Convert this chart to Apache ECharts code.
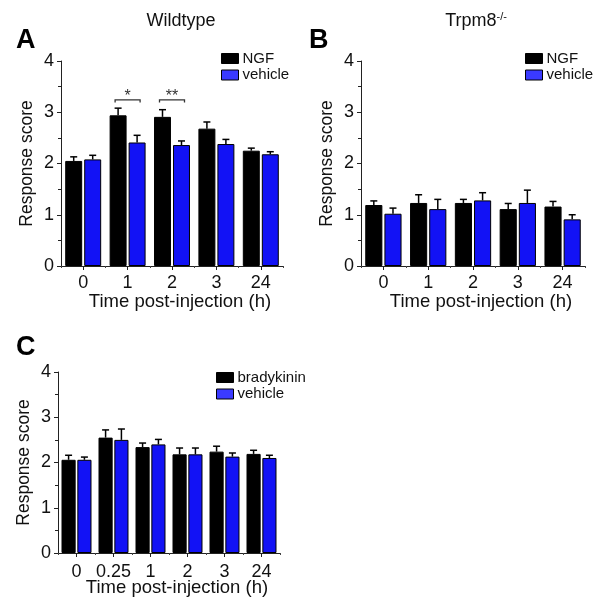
<!DOCTYPE html>
<html>
<head>
<meta charset="utf-8">
<script src="https://cdn.jsdelivr.net/npm/echarts@6/dist/echarts.min.js"></script>
<style>
html,body{margin:0;padding:0;background:#fff;}
#chart{width:597px;height:598px;}
</style>
</head>
<body>
<div id="chart"></div>
<script>
// ---- data ----
var catsAB = ['0', '1', '2', '3', '24'];
var catsC = ['0', '0.25', '1', '2', '3', '24'];
var yTicks = [0, 1, 2, 3, 4];

var ngfWT = [2.05, 2.94, 2.91, 2.68, 2.25];
var ngfWTSem = [0.08, 0.14, 0.14, 0.13, 0.05];
var vehWT = [2.08, 2.41, 2.36, 2.38, 2.18];
var vehWTSem = [0.08, 0.14, 0.08, 0.09, 0.05];

var ngfKO = [1.19, 1.23, 1.23, 1.11, 1.16];
var ngfKOSem = [0.08, 0.16, 0.07, 0.11, 0.10];
var vehKO = [1.02, 1.11, 1.28, 1.23, 0.91];
var vehKOSem = [0.11, 0.19, 0.15, 0.25, 0.09];

var brady = [2.06, 2.55, 2.34, 2.18, 2.24, 2.19];
var bradySem = [0.10, 0.17, 0.09, 0.14, 0.12, 0.08];
var vehC = [2.06, 2.50, 2.40, 2.18, 2.13, 2.10];
var vehCSem = [0.06, 0.24, 0.11, 0.14, 0.08, 0.06];

// significance brackets (category index, bracket level, label)
var sigCats = [1, 2];
var sigLevel = [3.24, 3.24];
var sigLabels = ['*', '**'];

// ---- styles ----
var FONT = 'Liberation Sans, Arial, Helvetica, sans-serif';
var BLUE = '#1212f5';
var BLUE_LEG = '#3a3aff';
var CAT_GAP = 0.19, BAR_GAP = 0.12;

function errData(means, sems, side) {
  return means.map(function (m, i) { return [i, m, m + sems[i], side]; });
}

function errRender(params, api) {
  var band = api.size([1, 0])[0];
  var w = band * (1 - CAT_GAP) / (2 + BAR_GAP);
  var off = w * (1 + BAR_GAP) / 2 * (api.value(3) ? 1 : -1);
  var p0 = api.coord([api.value(0), api.value(1)]);
  var p1 = api.coord([api.value(0), api.value(2)]);
  var x = p0[0] + off;
  var st = { stroke: '#000', lineWidth: 1.5 };
  return {
    type: 'group',
    children: [
      { type: 'line', shape: { x1: x, y1: p0[1], x2: x, y2: p1[1] }, style: st },
      { type: 'line', shape: { x1: x - 3.5, y1: p1[1], x2: x + 3.5, y2: p1[1] }, style: st }
    ]
  };
}

function sigRender(params, api) {
  var band = api.size([1, 0])[0];
  var w = band * (1 - CAT_GAP) / (2 + BAR_GAP);
  var half = w * (1 + BAR_GAP) / 2 + 3;
  var c = api.coord([api.value(0), api.value(1)]);
  var drop = api.size([0, 0.05])[1];
  var st = { stroke: '#333', lineWidth: 1.3, fill: null };
  return {
    type: 'group',
    children: [
      { type: 'polyline', shape: { points: [[c[0] - half, c[1] + drop], [c[0] - half, c[1]], [c[0] + half, c[1]], [c[0] + half, c[1] + drop]] }, style: st },
      { type: 'text', x: c[0], y: c[1] - 3, style: { text: api.value(2), font: '16px ' + FONT, fill: '#333', textAlign: 'center', textVerticalAlign: 'middle' } }
    ]
  };
}

function yAxisCfg(gi) {
  return {
    type: 'value', gridIndex: gi, min: yTicks[0], max: yTicks[yTicks.length - 1], interval: 1,
    name: 'Response score', nameLocation: 'middle', nameGap: 25,
    nameTextStyle: { fontFamily: FONT, fontSize: 17.5, color: '#111' },
    axisLine: { show: true, lineStyle: { color: '#222', width: 1 } },
    axisTick: { show: true, length: 4, lineStyle: { color: '#222' } },
    minorTick: { show: true, splitNumber: 2, length: 3, lineStyle: { color: '#222' } },
    splitLine: { show: false },
    axisLabel: { fontFamily: FONT, fontSize: 18, color: '#111', margin: 7 }
  };
}

function xAxisCfg(gi, cats, labelMargin, nameGap) {
  return {
    type: 'category', gridIndex: gi, data: cats,
    name: 'Time post-injection (h)', nameLocation: 'middle', nameGap: nameGap, nameMoveOverlap: false,
    nameTextStyle: { fontFamily: FONT, fontSize: 18.5, color: '#111', padding: [0, 0, 0, 16] },
    axisLine: { show: true, lineStyle: { color: '#222', width: 1 } },
    axisTick: { show: true, alignWithLabel: true, interval: 0, length: 4, lineStyle: { color: '#222' } },
    axisLabel: { fontFamily: FONT, fontSize: 18, color: '#111', margin: labelMargin, interval: 0 },
    splitLine: { show: false }
  };
}

function xBoundaryCfg(gi, cats) {
  return {
    type: 'category', gridIndex: gi, data: cats, position: 'bottom',
    axisLine: { show: false }, axisLabel: { show: false },
    axisTick: { show: true, interval: 0, length: 2, lineStyle: { color: '#444' } },
    splitLine: { show: false }
  };
}

function barSeries(name, data, color, xi, yi) {
  return {
    type: 'bar', name: name, data: data, xAxisIndex: xi, yAxisIndex: yi,
    barCategoryGap: (CAT_GAP * 100) + '%', barGap: (BAR_GAP * 100) + '%',
    itemStyle: { color: color, borderColor: '#000', borderWidth: 1 },
    emphasis: { disabled: true }, z: 2
  };
}

function errSeries(data, xi, yi) {
  return {
    type: 'custom', xAxisIndex: xi, yAxisIndex: yi, data: data,
    renderItem: errRender, z: 3, silent: true,
    encode: { x: 0, y: [1, 2] }
  };
}

function legendCfg(left, top, names) {
  return {
    orient: 'vertical', left: left, top: top, itemWidth: 17, itemHeight: 10, itemGap: 1.5,
    icon: 'rect', selectedMode: false,
    textStyle: { fontFamily: FONT, fontSize: 15, color: '#111', padding: [0, 0, 0, -1] },
    data: [
      { name: names[0], itemStyle: { color: '#000', borderColor: '#000', borderWidth: 1 } },
      { name: names[1], itemStyle: { color: BLUE_LEG, borderColor: '#000', borderWidth: 1 } }
    ]
  };
}

var chart = echarts.init(document.getElementById('chart'), null, { renderer: 'canvas' });

var option = {
  backgroundColor: '#fff',
  animation: false,
  grid: [
    { left: 61, top: 61, width: 222, height: 205, outerBoundsMode: 'none', containLabel: false },
    { left: 361, top: 61, width: 224, height: 205, outerBoundsMode: 'none', containLabel: false },
    { left: 58, top: 372, width: 222, height: 181, outerBoundsMode: 'none', containLabel: false }
  ],
  xAxis: [
    xAxisCfg(0, catsAB, 8, 26), xAxisCfg(1, catsAB, 8, 26), xAxisCfg(2, catsC, 10, 25),
    xBoundaryCfg(0, catsAB), xBoundaryCfg(1, catsAB), xBoundaryCfg(2, catsC)
  ],
  yAxis: [yAxisCfg(0), yAxisCfg(1), yAxisCfg(2)],
  legend: [
    legendCfg(216, 46, ['NGF', 'vehicle']),
    legendCfg(520, 46, ['NGF', 'vehicle']),
    legendCfg(211, 365, ['bradykinin', 'vehicle'])
  ],
  graphic: [
    { type: 'text', x: 181, y: 21, style: { text: 'Wildtype', font: '18px ' + FONT, fill: '#111', textAlign: 'center', textVerticalAlign: 'middle' } },
    { type: 'text', x: 476, y: 21, style: { text: '{a|Trpm8}{s|-/-}', textAlign: 'center', textVerticalAlign: 'middle',
        rich: { a: { fontFamily: FONT, fontSize: 18, fill: '#111', color: '#111' }, s: { fontFamily: FONT, fontSize: 11, color: '#111', fill: '#111', verticalAlign: 'top', padding: [0, 0, 8, 0] } } } },
    { type: 'text', x: 16, y: 41, style: { text: 'A', font: 'bold 27px ' + FONT, fill: '#000', textVerticalAlign: 'middle' } },
    { type: 'text', x: 309, y: 41, style: { text: 'B', font: 'bold 27px ' + FONT, fill: '#000', textVerticalAlign: 'middle' } },
    { type: 'text', x: 16, y: 348, style: { text: 'C', font: 'bold 27px ' + FONT, fill: '#000', textVerticalAlign: 'middle' } }
  ],
  series: [
    barSeries('NGF', ngfWT, '#000', 0, 0),
    barSeries('vehicle', vehWT, BLUE, 0, 0),
    errSeries(errData(ngfWT, ngfWTSem, 0), 0, 0),
    errSeries(errData(vehWT, vehWTSem, 1), 0, 0),
    {
      type: 'custom', xAxisIndex: 0, yAxisIndex: 0, silent: true, z: 4,
      data: sigCats.map(function (c, i) { return [c, sigLevel[i], sigLabels[i]]; }),
      encode: { x: 0, y: 1 },
      renderItem: sigRender
    },
    barSeries('NGF', ngfKO, '#000', 1, 1),
    barSeries('vehicle', vehKO, BLUE, 1, 1),
    errSeries(errData(ngfKO, ngfKOSem, 0), 1, 1),
    errSeries(errData(vehKO, vehKOSem, 1), 1, 1),
    barSeries('bradykinin', brady, '#000', 2, 2),
    barSeries('vehicle', vehC, BLUE, 2, 2),
    errSeries(errData(brady, bradySem, 0), 2, 2),
    errSeries(errData(vehC, vehCSem, 1), 2, 2)
  ]
};
chart.setOption(option);
</script>
</body>
</html>
